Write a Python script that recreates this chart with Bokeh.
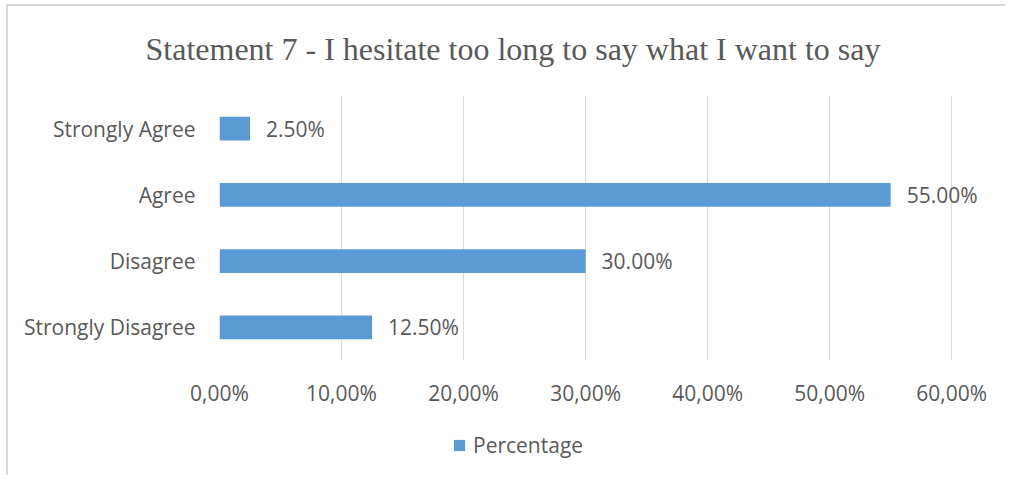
from bokeh.plotting import figure
from bokeh.layouts import column
from bokeh.models import FactorRange, Range1d, FixedTicker, Legend, LegendItem, ColumnDataSource, LabelSet
from bokeh.core.properties import value
from bokeh.embed import file_html
from bokeh.resources import INLINE

# ---- data ----
title_text = "Statement 7 - I hesitate too long to say what I want to say"
categories = ["Strongly Disagree", "Disagree", "Agree", "Strongly Agree"]
percentages = [12.5, 30.0, 55.0, 2.5]
series_name = "Percentage"
tick_values = [0, 10, 20, 30, 40, 50, 60]
tick_labels = ["0,00%", "10,00%", "20,00%", "30,00%", "40,00%", "50,00%", "60,00%"]

BAR = "#5B9BD5"
TXT = "#595959"
GRID = "#D9D9D9"
FONT = "Open Sans"
FS = "21px"

src = ColumnDataSource(dict(
    cat=categories,
    val=percentages,
    lab=[f"{v:.2f}%" for v in percentages],
))

p = figure(
    width=1005, height=420,
    y_range=FactorRange(*categories, range_padding=0),
    x_range=Range1d(0, 64.0),
    output_backend="svg", toolbar_location=None,
    min_border_left=219, min_border_right=5,
    min_border_top=95, min_border_bottom=60,
)
p.outline_line_color = None
p.background_fill_color = "white"
p.border_fill_alpha = 0

r = p.hbar(y="cat", right="val", left=0, height=0.36, source=src,
           fill_color=BAR, line_color=None)

labels = LabelSet(x="val", y="cat", text="lab", source=src, x_offset=16,
                  text_align="left", text_baseline="middle",
                  text_font=value(FONT), text_font_size=value(FS), text_color=TXT)
p.add_layout(labels)

# axes
p.xaxis.ticker = FixedTicker(ticks=tick_values)
p.xaxis.major_label_overrides = {t: l for t, l in zip(tick_values, tick_labels)}
for ax in (p.xaxis[0], p.yaxis[0]):
    ax.axis_line_color = None
    ax.major_tick_line_color = None
    ax.minor_tick_line_color = None
    ax.major_label_text_font = FONT
    ax.major_label_text_font_size = FS
    ax.major_label_text_color = TXT
p.xaxis.major_label_standoff = 12
p.yaxis.major_label_standoff = 18

p.ygrid.grid_line_color = None
p.xgrid.grid_line_color = GRID
p.xgrid.grid_line_width = 1

# title
p.title.text = title_text
p.title.text_font = "Liberation Serif"
p.title.text_font_size = "32px"
p.title.text_font_style = "normal"
p.title.text_line_height = 1.0
p.title.text_color = TXT
p.title.align = "left"
p.title.offset = -74
p.title.standoff = 57

# legend (in its own strip below the chart)
lg = figure(
    width=1005, height=55,
    x_range=Range1d(0, 1), y_range=Range1d(0, 1),
    output_backend="svg", toolbar_location=None,
    min_border=0, x_axis_type=None, y_axis_type=None,
)
lg.outline_line_color = None
lg.grid.visible = False
lg.border_fill_alpha = 0
lg.background_fill_alpha = 0
lr = lg.rect(x=0, y=0, width=0, height=0, fill_color=BAR, line_color=None)
legend = Legend(items=[LegendItem(label=series_name, renderers=[lr])],
                location=(233, 16), orientation="horizontal",
                glyph_width=14, glyph_height=14, label_standoff=7,
                padding=0, margin=0, border_line_color=None,
                background_fill_alpha=0,
                label_text_font=FONT, label_text_font_size=FS,
                label_text_color=TXT)
lg.add_layout(legend, "center")

frame_css = ("linear-gradient(#D9D9D9, #D9D9D9) 6px 4px / 100% 2px no-repeat, "
             "linear-gradient(#D9D9D9, #D9D9D9) 6px 4px / 2px 100% no-repeat, white")
layout = column(p, lg, spacing=0, styles={"background": frame_css})

open("out.html", "w").write(file_html(layout, INLINE))
